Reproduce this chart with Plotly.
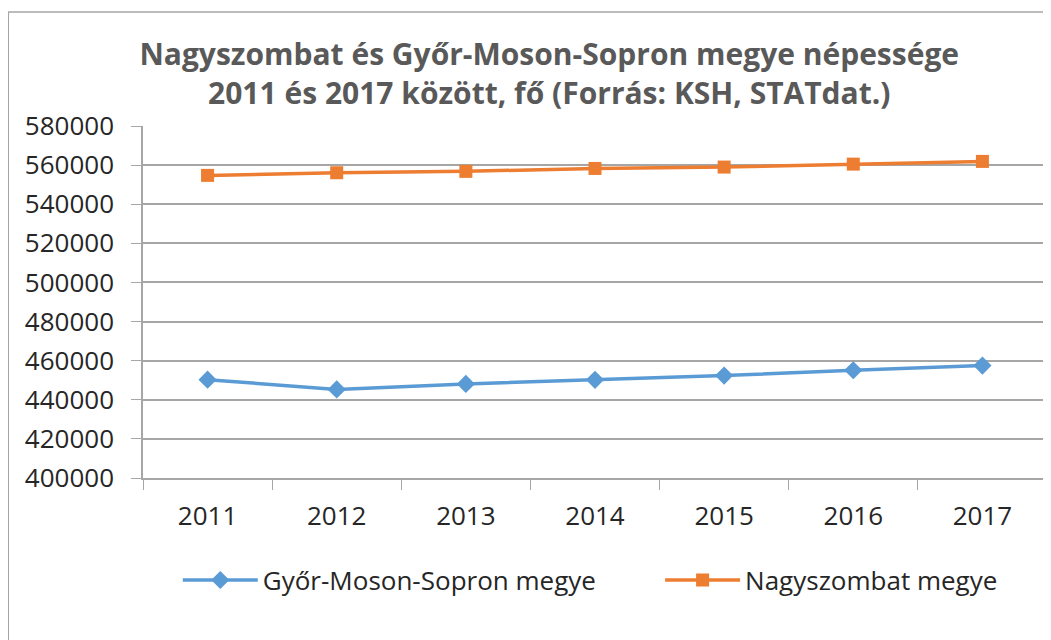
import plotly.graph_objects as go

years = ["2011", "2012", "2013", "2014", "2015", "2016", "2017"]
gyor = [450300, 445300, 448100, 450200, 452400, 455100, 457500]
nagyszombat = [554750, 556100, 556800, 558300, 559000, 560500, 561900]
y_ticks = [400000, 420000, 440000, 460000, 480000, 500000, 520000, 540000, 560000, 580000]

title_text = ("<b>Nagyszombat és Győr-Moson-Sopron megye népessége</b><br>"
              "<b>2011 és 2017 között, fő (Forrás: KSH, STATdat.)</b>")

FONT = "Open Sans"

fig = go.Figure()
fig.add_trace(go.Scatter(
    x=years, y=gyor, name="Győr-Moson-Sopron megye", mode="lines+markers",
    line=dict(color="#5B9BD5", width=3.5),
    marker=dict(symbol="diamond", size=14, color="#5B9BD5"),
    legend="legend",
))
fig.add_trace(go.Scatter(
    x=years, y=nagyszombat, name="Nagyszombat megye", mode="lines+markers",
    line=dict(color="#ED7D31", width=3.5),
    marker=dict(symbol="square", size=13, color="#ED7D31"),
    legend="legend2",
))

legend_common = dict(orientation="h", xanchor="left", y=-0.29, yanchor="middle",
                     font=dict(family=FONT, size=26, color="#262626"), itemwidth=75,
                     bgcolor="rgba(0,0,0,0)")

fig.update_layout(
    width=1051, height=640,
    paper_bgcolor="white", plot_bgcolor="white",
    margin=dict(l=135, r=12, t=118, b=170),
    font=dict(family=FONT, size=26, color="#262626"),
    title=dict(text=title_text, x=0.515, xanchor="center", y=0.911, yanchor="middle",
               font=dict(family=FONT, size=30, color="#595959")),
    showlegend=True,
    legend=dict(x=0.0385, **legend_common),
    legend2=dict(x=0.572, **legend_common),
    shapes=[dict(type="rect", xref="paper", yref="paper", x0=-0.149, x1=1.2, y0=-0.6, y1=1.324,
                 line=dict(color="#A6A6A6", width=1.5), layer="below")],
)
fig.update_xaxes(
    type="category", tickson="boundaries", ticks="outside", ticklen=10,
    tickcolor="#A6A6A6", showgrid=False, showline=True, linecolor="#A6A6A6",
    linewidth=1.5, tickfont=dict(family=FONT, size=26, color="#262626"),
    range=[-0.5, 6.5], automargin=False, ticklabelstandoff=14,
)
fig.update_yaxes(
    range=[400000, 580000], tickvals=y_ticks, tickformat="d",
    ticks="outside", ticklen=10, tickcolor="#A6A6A6",
    showgrid=True, gridcolor="#A6A6A6", gridwidth=1.5,
    showline=True, linecolor="#A6A6A6", linewidth=1.5,
    zeroline=False, ticklabelstandoff=12, automargin=False,
    tickfont=dict(family=FONT, size=26, color="#262626"),
)
fig.write_html("out.html")
